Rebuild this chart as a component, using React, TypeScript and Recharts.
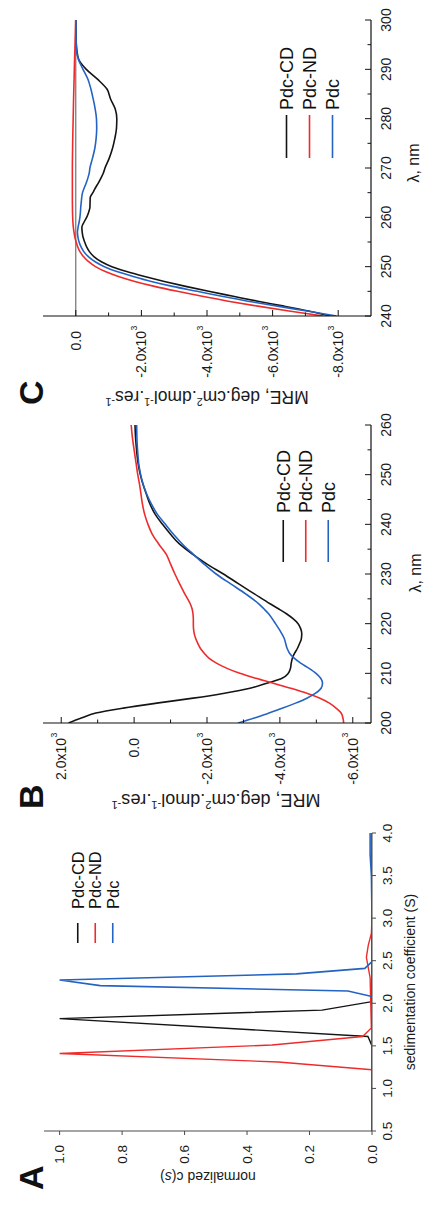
import React from "react";
import { LineChart, Line, XAxis, YAxis, ReferenceLine, Legend } from "recharts";

// same three samples in every panel
const seriesNames = ["Pdc-CD", "Pdc-ND", "Pdc"];
const seriesColors = ["#141414", "#ee2b2b", "#2563c2"];

// A: c(s) distributions, each run on its own s grid
const sedCdS = [0.5, 1.0, 1.5, 1.61, 1.82, 1.92, 2.02, 2.5, 3.0, 3.5, 4.0];
const sedCdC = [0, 0, 0, 0.013, 1.0, 0.16, 0, 0, 0, 0, 0];
const sedNdS = [0.5, 1.0, 1.22, 1.31, 1.41, 1.51, 1.61, 1.71, 2.0, 2.3, 2.42, 2.54, 2.68, 2.82, 3.0, 3.5, 4.0];
const sedNdC = [0, 0, 0, 0.3, 1.0, 0.32, 0.03, 0.002, 0.004, 0.006, 0.012, 0.018, 0.012, 0.002, 0, 0, 0];
const sedPdcS = [0.5, 1.0, 1.5, 2.0, 2.08, 2.145, 2.207, 2.274, 2.345, 2.41, 2.49, 3.0, 3.5, 3.75, 4.0];
const sedPdcC = [0, 0, 0, 0, 0, 0.077, 0.87, 1.0, 0.242, 0.023, 0, 0, 0.002, 0.006, 0.006];
const sedTicksX = [0.5, 1.0, 1.5, 2.0, 2.5, 3.0, 3.5, 4.0];
const sedTicksY = [0, 0.2, 0.4, 0.6, 0.8, 1.0];

// B: far-UV CD spectra
const farWl = [
  200, 201, 202, 203, 204, 205, 206, 207, 208, 209, 210, 211, 212, 213, 214, 215, 216, 217, 218, 219, 220, 221, 222,
  223, 224, 226, 228, 230, 232, 234, 236, 238, 240, 242, 244, 246, 248, 250, 252, 254, 256, 258, 260,
];
const farCd = [
  1800, 1450, 1050, 300, -620, -1620, -2480, -3180, -3640, -4060, -4230, -4290, -4310, -4340, -4400, -4480, -4540,
  -4590, -4600, -4570, -4500, -4360, -4180, -3960, -3730, -3300, -2870, -2450, -2000, -1600, -1250, -1000, -780, -580,
  -440, -340, -245, -170, -115, -80, -55, -35, -25,
];
const farNd = [
  -5750, -5730, -5680, -5540, -5360, -5100, -4740, -4300, -3820, -3340, -2900, -2550, -2270, -2060, -1930, -1820,
  -1750, -1690, -1650, -1630, -1625, -1625, -1615, -1590, -1540, -1390, -1250, -1120, -1000, -880, -680, -500, -380,
  -290, -230, -190, -150, -100, -60, -20, 20, 55, 80,
];
const farPdc = [
  -2850, -3300, -3700, -4080, -4430, -4740, -4980, -5130, -5170, -5120, -4990, -4800, -4580, -4400, -4270, -4200,
  -4160, -4120, -4050, -3970, -3880, -3790, -3690, -3560, -3420, -3060, -2650, -2250, -1920, -1620, -1330, -1080, -860,
  -640, -480, -350, -250, -180, -130, -105, -85, -75, -70,
];
const farTicksX = [200, 205, 210, 215, 220, 225, 230, 235, 240, 245, 250, 255, 260];
const farMajorsX = [200, 210, 220, 230, 240, 250, 260];
const farTicksY = [-6000, -5000, -4000, -3000, -2000, -1000, 0, 1000, 2000];
const farMajorsY = [-6000, -4000, -2000, 0, 2000];

// C: near-UV CD spectra
const nearWl = [
  240, 241, 242, 243, 244, 245, 246, 247, 248, 249, 250, 251, 252, 253, 254, 255, 256, 257, 258, 259, 260, 261, 262,
  263, 264, 265, 266, 267, 268, 269, 270, 272, 274, 276, 278, 280, 282, 284, 286, 288, 290, 292, 294, 296, 298, 300,
];
const nearCd = [
  -7750, -7100, -6350, -5550, -4800, -4050, -3350, -2700, -2100, -1550, -1100, -780, -560, -420, -330, -270, -220,
  -195, -185, -250, -330, -390, -430, -435, -440, -520, -600, -690, -770, -840, -890, -1020, -1120, -1190, -1240,
  -1250, -1200, -1060, -950, -660, -320, -90, -30, -10, -5, -5,
];
const nearNd = [
  -7550, -6500, -5550, -4650, -3850, -3100, -2400, -1800, -1300, -900, -600, -390, -240, -130, -60, -10, 30, 55, 75,
  88, 95, 100, 102, 104, 105, 105, 105, 105, 105, 105, 105, 102, 98, 93, 87, 80, 74, 68, 60, 52, 45, 37, 28, 20, 12,
  5,
];
const nearPdc = [
  -7950, -7050, -6150, -5250, -4450, -3700, -2950, -2300, -1750, -1250, -870, -590, -390, -250, -160, -100, -65, -50,
  -70, -100, -125, -140, -150, -165, -180, -205, -260, -320, -370, -410, -430, -510, -580, -620, -637, -630, -590,
  -530, -460, -370, -220, -80, -20, -10, -5, -5,
];
const nearTicksX = [240, 245, 250, 255, 260, 265, 270, 275, 280, 285, 290, 295, 300];
const nearMajorsX = [240, 250, 260, 270, 280, 290, 300];
const nearTicksY = [-8000, -7000, -6000, -5000, -4000, -3000, -2000, -1000, 0];
const nearMajorsY = [-8000, -6000, -4000, -2000, 0];

const FONT = "'Liberation Sans', Arial, sans-serif";

const sedCd = sedCdS.map((s, i) => ({ s, c: sedCdC[i] }));
const sedNd = sedNdS.map((s, i) => ({ s, c: sedNdC[i] }));
const sedPdc = sedPdcS.map((s, i) => ({ s, c: sedPdcC[i] }));
const farData = farWl.map((wl, i) => ({ wl, cd: farCd[i], nd: farNd[i], pdc: farPdc[i] }));
const nearData = nearWl.map((wl, i) => ({ wl, cd: nearCd[i], nd: nearNd[i], pdc: nearPdc[i] }));

type Side = "bottom" | "left" | "top" | "right";
type TickLabel = { base: string; sup?: string };

interface TickSpec {
  side: Side;
  majors: number[];
  majorLen: number;
  minorLen: number;
  inward: boolean;
  color: string;
  gap?: number;
  fontSize?: number;
  label?: (v: number) => TickLabel;
}

const mreLabel = (v: number): TickLabel =>
  v === 0 ? { base: "0.0" } : { base: (v / 1000).toFixed(1) + "x10", sup: "3" };
const fixed1 = (v: number): TickLabel => ({ base: v.toFixed(1) });
const plain = (v: number): TickLabel => ({ base: String(v) });

// draws tick lines (major/minor, in or out) and the labels on the main axes
const makeTick = (spec: TickSpec) => (props: any) => {
  const { x, y, payload } = props;
  const v = payload.value;
  const isMajor = spec.majors.some((m) => Math.abs(m - v) < 1e-9);
  const len = isMajor ? spec.majorLen : spec.minorLen;
  const dir = spec.inward ? -1 : 1;
  let x2 = x;
  let y2 = y;
  if (spec.side === "bottom") y2 = y + dir * len;
  if (spec.side === "top") y2 = y - dir * len;
  if (spec.side === "left") x2 = x - dir * len;
  if (spec.side === "right") x2 = x + dir * len;
  const fs = spec.fontSize || 13;
  const gap = spec.gap || 0;
  let text = null;
  if (isMajor && spec.label) {
    const lab = spec.label(v);
    if (spec.side === "bottom") {
      text = (
        <text x={x} y={y + gap} textAnchor="middle" fontSize={fs} fill="#1a1a1a">
          {lab.base}
        </text>
      );
    } else if (spec.side === "left") {
      text = (
        <g>
          <text x={x - gap} y={y} dy="0.35em" textAnchor="end" fontSize={fs} fill="#1a1a1a">
            {lab.base}
          </text>
          {lab.sup && (
            <text x={x - gap + 0.5} y={y - 4.5} textAnchor="start" fontSize={fs * 0.62} fill="#1a1a1a">
              {lab.sup}
            </text>
          )}
        </g>
      );
    }
  }
  return (
    <g>
      <line x1={x} y1={y} x2={x2} y2={y2} stroke={spec.color} strokeWidth={1} />
      {text}
    </g>
  );
};

// legend keeps the series order (recharts sorts by name otherwise)
const makeLegend = (lineLen: number, gap: number, rowH: number, fontSize: number) => (props: any) => {
  const items = [...(props.payload || [])].sort(
    (a: any, b: any) => seriesNames.indexOf(a.value) - seriesNames.indexOf(b.value)
  );
  return (
    <svg
      width={lineLen + gap + 100}
      height={rowH * items.length}
      style={{ display: "block", overflow: "visible", fontFamily: FONT }}
    >
      {items.map((it: any, i: number) => {
        const cy = rowH * (i + 0.5);
        return (
          <g key={it.value}>
            <line x1={0} x2={lineLen} y1={cy} y2={cy} stroke={it.color} strokeWidth={1.6} />
            <text x={lineLen + gap} y={cy} dy="0.35em" fontSize={fontSize} fill="#111">
              {it.value}
            </text>
          </g>
        );
      })}
    </svg>
  );
};

const mreTitle = (bx: number, cy: number, size: number) => () => {
  const sup = size * 0.62;
  const up = size * 0.4;
  return (
    <text
      x={bx}
      y={cy}
      transform={`rotate(-90 ${bx} ${cy})`}
      textAnchor="middle"
      fontSize={size}
      fill="#1a1a1a"
      fontFamily={FONT}
    >
      MRE, deg.cm
      <tspan dy={-up} fontSize={sup}>
        2
      </tspan>
      <tspan dy={up}>.dmol</tspan>
      <tspan dy={-up} fontSize={sup}>
        -1
      </tspan>
      <tspan dy={up}>.res</tspan>
      <tspan dy={-up} fontSize={sup}>
        -1
      </tspan>
    </text>
  );
};

const lambdaTitle = (cx: number, by: number) => () => (
  <text x={cx} y={by} textAnchor="middle" fontSize={16} fill="#1a1a1a" fontFamily={FONT}>
    λ, nm
  </text>
);

const SedChart = () => {
  const axisColor = "#4a4a4a";
  return (
    <LineChart width={400} height={425} margin={{ top: 44, right: 28, bottom: 23, left: 24 }}>
      <XAxis
        dataKey="s"
        type="number"
        domain={[0.5, 4.0]}
        allowDataOverflow
        ticks={sedTicksX}
        interval={0}
        height={30}
        tickSize={0}
        tickMargin={0}
        axisLine={{ stroke: axisColor }}
        tick={makeTick({
          side: "bottom",
          majors: sedTicksX,
          majorLen: 4,
          minorLen: 4,
          inward: false,
          color: axisColor,
          gap: 19.5,
          fontSize: 13.5,
          label: fixed1,
        })}
        label={() => (
          <text x={223} y={415} textAnchor="middle" fontSize={14} fill="#1a1a1a" fontFamily={FONT}>
            sedimentation coefficient (S)
          </text>
        )}
      />
      <XAxis xAxisId="top" orientation="top" type="number" domain={[0.5, 4.0]} allowDataOverflow height={0} tick={false} axisLine={{ stroke: axisColor }} />
      <YAxis
        type="number"
        domain={[0, 1.05]}
        allowDataOverflow
        ticks={sedTicksY}
        interval={0}
        width={50}
        tickSize={0}
        tickMargin={0}
        axisLine={{ stroke: axisColor }}
        tick={makeTick({
          side: "left",
          majors: sedTicksY,
          majorLen: 4,
          minorLen: 4,
          inward: false,
          color: axisColor,
          gap: 14,
          fontSize: 13.5,
          label: fixed1,
        })}
        label={() => (
          <text
            x={33}
            y={208}
            transform="rotate(-90 33 208)"
            textAnchor="middle"
            fontSize={14}
            fill="#1a1a1a"
            fontFamily={FONT}
          >
            normalized c(<tspan fontStyle="italic">s</tspan>)
          </text>
        )}
      />
      <YAxis yAxisId="right" orientation="right" type="number" domain={[0, 1.05]} allowDataOverflow width={0} tick={false} axisLine={{ stroke: axisColor }} />
      <Legend
        layout="vertical"
        align="center"
        verticalAlign="middle"
        wrapperStyle={{ left: 262, top: 69, width: 140 }}
        content={makeLegend(20, 14, 17.5, 16.5)}
      />
      <Line data={sedCd} dataKey="c" name={seriesNames[0]} type="linear" stroke={seriesColors[0]} strokeWidth={1.4} dot={false} isAnimationActive={false} />
      <Line data={sedNd} dataKey="c" name={seriesNames[1]} type="linear" stroke={seriesColors[1]} strokeWidth={1.4} dot={false} isAnimationActive={false} />
      <Line data={sedPdc} dataKey="c" name={seriesNames[2]} type="linear" stroke={seriesColors[2]} strokeWidth={1.6} dot={false} isAnimationActive={false} />
    </LineChart>
  );
};

interface CdProps {
  data: any[];
  xDomain: [number, number];
  yDomain: [number, number];
  ticksX: number[];
  majorsX: number[];
  ticksY: number[];
  majorsY: number[];
  chartWidth: number;
  plotLeft: number;
  plotWidth: number;
  titleBase: number;
  titleCenter: number;
  titleSize: number;
  xTitleCenter: number;
  xTitleBase: number;
  legendLeft: number;
  legendTop: number;
  legendLine: number;
  legendGap: number;
  legendRow: number;
  zeroLine?: boolean;
}

const CdChart = (p: CdProps) => {
  const ink = "#111";
  const mirrorX = makeTick({ side: "top", majors: p.majorsX, majorLen: 6, minorLen: 3.5, inward: true, color: ink });
  const mirrorY = makeTick({ side: "right", majors: p.majorsY, majorLen: 6, minorLen: 3.5, inward: true, color: ink });
  return (
    <LineChart
      width={p.chartWidth}
      height={425}
      data={p.data}
      margin={{ top: 43, right: p.chartWidth - p.plotLeft - p.plotWidth, bottom: 24, left: p.plotLeft - 60 }}
    >
      <XAxis
        dataKey="wl"
        type="number"
        domain={p.xDomain}
        allowDataOverflow
        ticks={p.ticksX}
        interval={0}
        height={30}
        tickSize={0}
        tickMargin={0}
        axisLine={{ stroke: ink, strokeWidth: 1.2 }}
        tick={makeTick({
          side: "bottom",
          majors: p.majorsX,
          majorLen: 6,
          minorLen: 3.5,
          inward: true,
          color: ink,
          gap: 19.5,
          fontSize: 14,
          label: plain,
        })}
        label={lambdaTitle(p.xTitleCenter, p.xTitleBase)}
      />
      <XAxis
        xAxisId="top"
        orientation="top"
        type="number"
        domain={p.xDomain}
        allowDataOverflow
        ticks={p.ticksX}
        interval={0}
        height={0}
        tickSize={0}
        tickMargin={0}
        axisLine={{ stroke: ink, strokeWidth: 1.2 }}
        tick={mirrorX}
      />
      <YAxis
        type="number"
        domain={p.yDomain}
        allowDataOverflow
        ticks={p.ticksY}
        interval={0}
        width={60}
        tickSize={0}
        tickMargin={0}
        axisLine={{ stroke: ink, strokeWidth: 1.2 }}
        tick={makeTick({
          side: "left",
          majors: p.majorsY,
          majorLen: 6,
          minorLen: 3.5,
          inward: true,
          color: ink,
          gap: 15,
          fontSize: 14,
          label: mreLabel,
        })}
        label={mreTitle(p.titleBase, p.titleCenter, p.titleSize)}
      />
      <YAxis
        yAxisId="right"
        orientation="right"
        type="number"
        domain={p.yDomain}
        allowDataOverflow
        ticks={p.ticksY}
        interval={0}
        width={0}
        tickSize={0}
        tickMargin={0}
        axisLine={{ stroke: ink, strokeWidth: 1.2 }}
        tick={mirrorY}
      />
      {p.zeroLine && <ReferenceLine y={0} stroke="#555" strokeWidth={1} />}
      <Legend
        layout="vertical"
        align="center"
        verticalAlign="middle"
        wrapperStyle={{ left: p.legendLeft, top: p.legendTop, width: 160 }}
        content={makeLegend(p.legendLine, p.legendGap, p.legendRow, 18)}
      />
      <Line dataKey="cd" name={seriesNames[0]} type="monotone" stroke={seriesColors[0]} strokeWidth={1.6} dot={false} isAnimationActive={false} />
      <Line dataKey="nd" name={seriesNames[1]} type="monotone" stroke={seriesColors[1]} strokeWidth={1.6} dot={false} isAnimationActive={false} />
      <Line dataKey="pdc" name={seriesNames[2]} type="monotone" stroke={seriesColors[2]} strokeWidth={1.6} dot={false} isAnimationActive={false} />
    </LineChart>
  );
};

export default function App() {
  return (
    <div
      style={{
        position: "absolute",
        left: 0,
        top: 0,
        width: 425,
        height: 1205,
        overflow: "hidden",
        background: "#fff",
        fontFamily: FONT,
      }}
    >
      {/* the published figure is turned a quarter turn counter-clockwise */}
      <div
        style={{
          position: "absolute",
          left: 0,
          top: 0,
          width: 1205,
          height: 425,
          transformOrigin: "0 0",
          transform: "translate(0px, 1205px) rotate(-90deg)",
        }}
      >
        <div style={{ position: "absolute", left: 0, top: 0 }}>
          <SedChart />
        </div>
        <div style={{ position: "absolute", left: 380, top: 0 }}>
          <CdChart
            data={farData}
            xDomain={[200, 260]}
            yDomain={[-6500, 2500]}
            ticksX={farTicksX}
            majorsX={farMajorsX}
            ticksY={farTicksY}
            majorsY={farMajorsY}
            chartWidth={425}
            plotLeft={102}
            plotWidth={298}
            titleBase={31}
            titleCenter={216}
            titleSize={18}
            xTitleCenter={252}
            xTitleBase={421}
            legendLeft={263}
            legendTop={272}
            legendLine={42}
            legendGap={7}
            legendRow={22.5}
          />
        </div>
        <div style={{ position: "absolute", left: 790, top: 0 }}>
          <CdChart
            data={nearData}
            xDomain={[240, 300]}
            yDomain={[-9000, 1000]}
            ticksX={nearTicksX}
            majorsX={nearMajorsX}
            ticksY={nearTicksY}
            majorsY={nearMajorsY}
            chartWidth={415}
            plotLeft={99}
            plotWidth={296}
            titleBase={24}
            titleCenter={207}
            titleSize={17.5}
            xTitleCenter={252}
            xTitleBase={419}
            legendLeft={257}
            legendTop={275}
            legendLine={43}
            legendGap={5}
            legendRow={23}
            zeroLine
          />
        </div>
        <svg width={1205} height={425} style={{ position: "absolute", left: 0, top: 0, pointerEvents: "none" }}>
          <text x={15} y={43} fontSize={34} fontWeight="bold" fill="#111" fontFamily={FONT}>
            A
          </text>
          <text x={396} y={43} fontSize={34} fontWeight="bold" fill="#111" fontFamily={FONT}>
            B
          </text>
          <text x={800} y={43} fontSize={34} fontWeight="bold" fill="#111" fontFamily={FONT}>
            C
          </text>
        </svg>
      </div>
    </div>
  );
}
